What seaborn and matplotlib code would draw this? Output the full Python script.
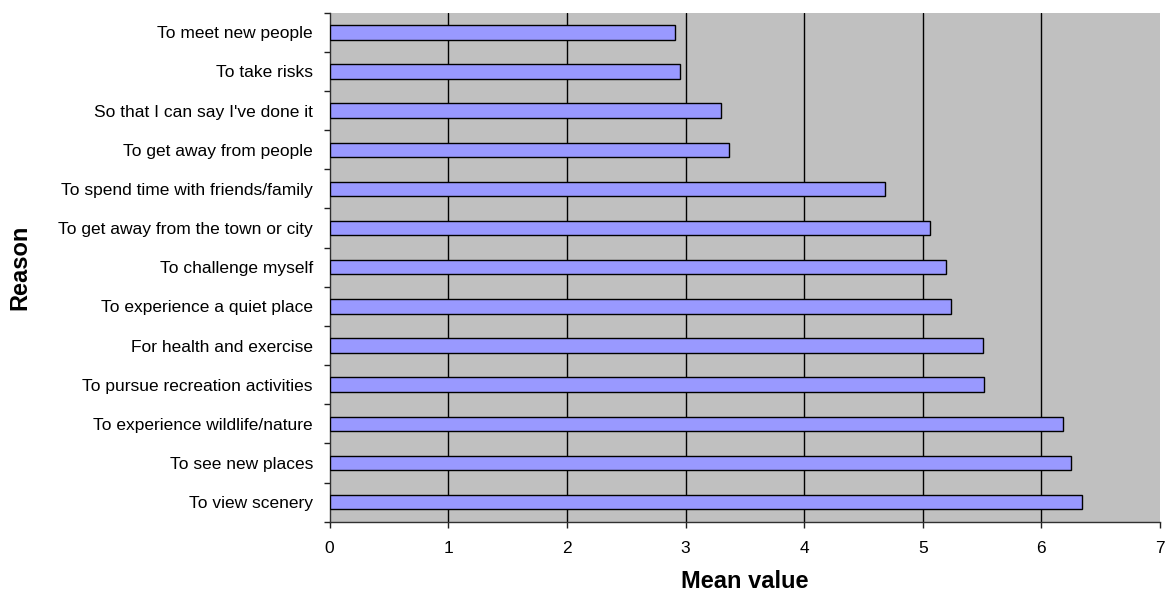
import numpy as np
import pandas as pd
import matplotlib
matplotlib.use("Agg")
import matplotlib.pyplot as plt
import seaborn as sns

reasons = [
    "To meet new people",
    "To take risks",
    "So that I can say I've done it",
    "To get away from people",
    "To spend time with friends/family",
    "To get away from the town or city",
    "To challenge myself",
    "To experience a quiet place",
    "For health and exercise",
    "To pursue recreation activities",
    "To experience wildlife/nature",
    "To see new places",
    "To view scenery",
]
mean_values = [2.91, 2.95, 3.30, 3.37, 4.68, 5.06, 5.20, 5.24, 5.51, 5.52, 6.18, 6.25, 6.34]
x_ticks = [0, 1, 2, 3, 4, 5, 6, 7]

df = pd.DataFrame({"Reason": reasons, "Mean value": mean_values})

sns.set_style("white")
plt.rcParams["font.family"] = ["Liberation Sans", "DejaVu Sans"]
plt.rcParams["text.color"] = "black"
plt.rcParams["axes.labelcolor"] = "black"
plt.rcParams["xtick.color"] = "black"
plt.rcParams["ytick.color"] = "black"

fig = plt.figure(figsize=(11.69, 5.99), dpi=100)
ax = fig.add_axes([0.282, 0.129, 0.9923 - 0.282, 0.9788 - 0.129])
ax.set_facecolor("#C0C0C0")

sns.barplot(
    data=df, x="Mean value", y="Reason", orient="h",
    color="#9999FF", saturation=1, edgecolor="black", linewidth=1.0,
    width=0.37, ax=ax, zorder=3,
)

ax.set_xlim(0, 7)
ax.set_xticks(x_ticks)
ax.set_xticklabels([str(t) for t in x_ticks])
for t in x_ticks[1:-1]:
    ax.axvline(t, color="black", linewidth=1.0, zorder=1)

# category labels centred, tick marks on the category boundaries
n = len(reasons)
ax.set_yticks(np.arange(-0.5, n, 1), minor=True)
ax.tick_params(axis="y", which="major", length=0, pad=12, labelsize=12.5)
ax.tick_params(axis="y", which="minor", length=4.5, width=1, color="#202020", direction="out", left=True)
ax.tick_params(axis="x", which="major", length=4, width=1, color="#202020", direction="out",
               bottom=True, pad=10, labelsize=12.5)

for side in ["top", "right"]:
    ax.spines[side].set_visible(False)
ax.spines["left"].set_color("#303030")
ax.spines["bottom"].set_color("#303030")
ax.spines["left"].set_linewidth(1.0)
ax.spines["bottom"].set_linewidth(1.0)

ax.set_xlabel("Mean value", fontsize=17, fontweight="bold", labelpad=10)
ax.set_ylabel("Reason", fontsize=17, fontweight="bold")
ax.yaxis.set_label_coords(-0.359, 0.5)

fig.savefig("out.png", dpi=100)
